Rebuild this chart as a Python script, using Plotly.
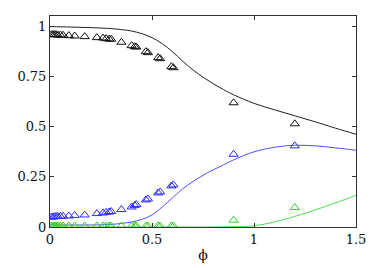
import plotly.graph_objects as go

# measured points
phi_pts = [0.007, 0.015, 0.022, 0.03, 0.038, 0.051, 0.064, 0.092, 0.121, 0.17, 0.23, 0.26, 0.275,
           0.29, 0.30, 0.35, 0.40, 0.415, 0.423, 0.47, 0.48, 0.53, 0.54, 0.595, 0.605, 0.9, 1.2]
black_pts = [0.96, 0.96, 0.96, 0.96, 0.958, 0.958, 0.957, 0.955, 0.953, 0.95, 0.945, 0.943, 0.94,
             0.938, 0.937, 0.922, 0.905, 0.9, 0.898, 0.875, 0.87, 0.845, 0.84, 0.8, 0.795, 0.62, 0.515]
blue_pts = [0.05, 0.05, 0.052, 0.052, 0.053, 0.053, 0.054, 0.055, 0.058, 0.06, 0.067, 0.07, 0.073,
            0.075, 0.077, 0.087, 0.1, 0.108, 0.112, 0.135, 0.14, 0.17, 0.175, 0.205, 0.21, 0.363, 0.405]
green_pts = [0.005] * 25 + [0.034, 0.097]

# model curves
phi_curve = [0, 0.1, 0.2, 0.3, 0.35, 0.4, 0.45, 0.5, 0.55, 0.6, 0.65, 0.7, 0.75, 0.8, 0.85,
             0.9, 1.0, 1.1, 1.2, 1.3, 1.4, 1.5]
black_curve = [1.0, 0.998, 0.995, 0.99, 0.985, 0.978, 0.965, 0.945, 0.915, 0.875, 0.828, 0.785,
               0.748, 0.715, 0.686, 0.66, 0.617, 0.585, 0.555, 0.525, 0.493, 0.463]
blue_curve = [0.01, 0.01, 0.01, 0.013, 0.018, 0.025, 0.038, 0.06, 0.1, 0.145, 0.19, 0.226,
              0.258, 0.285, 0.31, 0.335, 0.375, 0.398, 0.408, 0.405, 0.395, 0.383]
green_curve = [0, 0, 0, 0, 0, 0, 0, 0, 0, 0, 0, 0, 0, 0.0005, 0.001, 0.002, 0.006, 0.025,
               0.053, 0.085, 0.12, 0.158]

x_ticks = [0, 0.5, 1, 1.5]
x_tick_labels = ["0", "0.5", "1", "1.5"]
y_ticks = [0, 0.25, 0.5, 0.75, 1]
y_tick_labels = ["0", "0.25", "0.5", "0.75", "1"]

SERIF = "DejaVu Serif"

fig = go.Figure()
for yc, col in [(black_curve, "#222222"), (blue_curve, "#4f4fff"), (green_curve, "#4fdc4f")]:
    fig.add_trace(go.Scatter(x=phi_curve, y=yc, mode="lines", line=dict(color=col, width=1, shape="spline"),
                             showlegend=False, hoverinfo="skip"))
for yp, col in [(black_pts, "#111111"), (blue_pts, "#2a2aff"), (green_pts, "#2ad42a")]:
    fig.add_trace(go.Scatter(x=phi_pts, y=yp, mode="markers",
                             marker=dict(symbol="triangle-up-open", size=8, color=col, line=dict(width=1, color=col)),
                             showlegend=False))

axis_common = dict(showgrid=False, zeroline=False, showline=True, linecolor="#333333", linewidth=1,
                   mirror="ticks", ticks="inside", ticklen=4, tickcolor="#333333", automargin=False,
                   tickfont=dict(family=SERIF, size=13, color="#111111"))
fig.update_xaxes(range=[0, 1.5], tickvals=x_ticks, ticktext=x_tick_labels,
                 title=dict(text="ϕ", font=dict(family=SERIF, size=14, color="#111111"), standoff=4),
                 **axis_common)
fig.update_yaxes(range=[0, 1.053], tickvals=y_ticks, ticktext=y_tick_labels, **axis_common)
fig.update_layout(width=382, height=268, margin=dict(l=49.5, r=26, t=16, b=41),
                  font=dict(family=SERIF, color="#111111"),
                  plot_bgcolor="white", paper_bgcolor="white")
fig.write_html("out.html", config={"displayModeBar": False},
               post_script="document.body.style.margin='0';document.body.style.overflow='hidden';")
